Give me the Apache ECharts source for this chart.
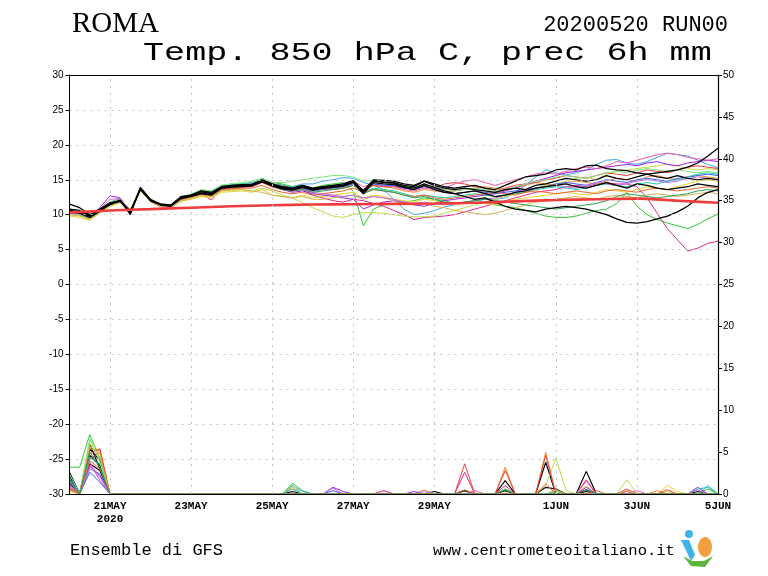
<!DOCTYPE html>
<html><head><meta charset="utf-8">
<script src="https://cdn.jsdelivr.net/npm/echarts@6/dist/echarts.min.js"></script>
<style>html,body{margin:0;padding:0;background:#fff}#c{width:768px;height:576px}</style>
</head><body><div id="c"></div>
<script>
// ---- time axis (days since 20 May 2020 00Z), 6-hourly steps ----
const stepHours = 6;
const tickDays = [1, 3, 5, 7, 9, 12, 14, 16];
const tickLabels = ['21MAY\n2020', '23MAY', '25MAY', '27MAY', '29MAY', '1JUN', '3JUN', '5JUN'];

// ---- climatology (thick red line), daily values ----
const climDays = [0,1,2,3,4,5,6,7,8,9,10,11,12,13,14,15,16];
const climTemp = [10.3,10.6,10.8,11.0,11.2,11.35,11.45,11.5,11.55,11.6,11.7,11.9,12.1,12.2,12.3,12.0,11.7];

// ---- member colours ----
const memberColors = ['#000000','#000000','#000000','#000000','#32c832','#e0288c','#40a4e8','#c0dc46',
  '#e6d22d','#f0902d','#f03c3c','#a01ee6','#f05aaa','#3c5af0','#1ec8aa','#82e682','#d2b450','#be6ee6','#e6642d','#28a050'];

// ---- T850 members (°C), 65 six-hourly values ----
const t01 = [11.5,11.0,10.0,10.8,11.4,12.1,10.0,13.9,12.1,11.5,11.4,12.5,12.8,13.4,13.2,14.0,14.2,14.3,14.2,15.0,14.4,
  14.0,13.8,14.2,13.8,14.0,14.2,14.4,14.9,13.4,15.0,14.9,14.8,14.4,14.2,14.8,14.4,14.0,13.8,14.0,14.2,
  13.8,13.6,14.2,14.8,15.4,15.6,15.8,16.4,16.6,16.4,17.0,17.1,16.6,16.4,16.3,16.0,15.8,16.0,16.2,16.4,16.8,17.4,18.4,19.5];
const t02 = [10.8,10.6,9.9,10.8,11.7,12.0,10.2,13.8,12.2,11.4,11.3,12.6,12.8,13.3,13.0,13.9,14.1,14.2,14.3,14.9,14.3,
  13.9,13.7,14.1,13.7,13.9,14.0,14.2,14.7,13.2,14.8,14.6,14.5,14.0,13.8,14.4,13.9,13.4,13.0,12.6,12.2,
  12.4,11.8,11.2,10.8,10.6,10.4,10.8,11.0,11.2,11.0,10.8,10.4,10.0,9.4,8.9,8.8,9.0,9.4,9.8,10.4,11.2,12.4,13.2,13.6];
const t03 = [10.6,10.4,9.8,10.7,11.6,12.0,10.5,13.7,12.0,11.4,11.2,12.4,12.7,13.1,12.8,13.8,13.9,14.1,14.3,14.9,14.2,
  13.8,13.6,14.0,13.6,13.8,14.0,14.2,14.8,13.4,14.9,14.7,14.6,14.2,14.0,14.8,14.2,13.8,13.6,13.8,13.6,
  13.4,13.2,13.6,13.8,13.6,14.2,14.4,14.8,15.2,15.0,14.8,15.0,15.6,15.2,15.0,15.4,15.8,15.4,15.2,15.6,15.2,15.0,15.2,15.0];
const t04 = [10.4,10.2,9.6,10.5,11.5,11.9,10.3,13.6,12.0,11.5,11.3,12.3,12.6,13.0,12.9,13.8,14.0,14.0,14.1,14.7,14.1,
  13.7,13.5,13.9,13.5,13.8,13.9,14.1,14.6,13.0,14.6,14.4,14.3,13.9,13.6,14.2,13.6,13.2,13.0,13.2,13.4,
  13.0,12.6,12.8,13.2,13.4,13.8,14.0,14.2,14.4,14.0,13.8,14.2,14.6,14.2,13.8,14.4,14.2,13.8,13.6,13.8,14.0,14.4,14.2,14.0];
const t05 = [10.3,10.2,9.6,10.5,11.8,12.2,10.5,13.6,12.0,11.3,11.2,12.6,12.9,13.5,13.3,14.2,14.4,14.4,14.5,15.2,14.6,
  14.4,14.0,14.2,13.8,14.2,14.4,14.6,13.4,8.4,10.8,11.4,11.6,11.8,12.0,12.4,12.2,12.0,11.6,11.8,11.6,
  11.8,11.4,11.2,11.0,10.6,10.2,9.8,9.6,9.6,9.8,10.2,10.6,10.8,11.6,13.2,11.2,10.0,9.3,8.8,8.4,8.0,8.6,9.4,10.1];
const t06 = [10.2,10.0,9.5,10.4,11.6,12.2,10.6,13.6,11.9,11.2,11.1,12.2,12.5,13.0,12.1,13.6,13.8,13.9,14.0,14.6,14.0,
  13.6,13.4,13.6,12.8,12.4,12.0,11.8,12.2,12.0,11.6,11.2,10.6,10.0,9.3,9.6,9.7,9.8,10.0,10.4,10.8,
  11.2,11.6,12.0,12.4,12.8,13.2,13.4,13.6,14.0,14.2,14.0,14.4,14.6,14.4,14.4,14.0,12.4,10.2,8.0,6.4,4.8,5.2,5.9,6.2];
const t07 = [10.4,10.2,9.7,10.6,11.8,12.3,10.6,13.9,12.0,11.4,11.3,12.5,12.8,13.3,13.1,14.1,14.3,14.3,14.4,15.0,14.4,
  14.2,14.0,14.4,14.4,14.8,15.0,15.3,15.2,14.6,14.2,13.6,12.2,10.8,10.0,10.2,10.6,11.1,11.4,11.8,12.0,
  12.2,12.2,12.4,13.2,14.2,15.4,16.4,16.0,15.7,16.0,16.4,17.2,17.8,17.9,17.4,17.2,17.6,18.2,18.8,18.6,18.4,17.8,17.2,16.7];
const t08 = [10.0,9.8,9.4,10.3,11.2,11.7,10.6,13.5,11.8,11.2,11.0,12.0,12.4,12.8,12.6,13.4,13.6,13.6,13.4,13.8,13.4,
  12.8,12.4,11.7,11.0,10.4,9.8,9.6,10.0,10.3,10.3,10.2,10.0,9.8,9.7,9.7,9.8,10.2,10.6,11.0,11.4,
  11.8,12.2,12.6,13.0,13.2,13.8,14.2,14.4,14.8,15.2,15.4,15.0,15.8,16.2,16.4,16.6,16.8,17.0,17.2,17.0,16.6,16.4,16.6,16.4];
const t09 = [9.8,9.6,9.2,10.2,11.2,11.8,10.8,13.4,11.9,11.2,11.0,11.9,12.2,12.6,12.4,13.2,13.3,13.4,13.2,13.6,12.8,
  12.6,12.4,12.8,12.4,12.6,12.8,13.0,13.2,12.4,12.8,12.6,12.2,12.0,11.8,12.2,12.0,11.6,11.4,11.6,11.8,
  11.6,11.4,11.8,12.2,12.4,12.6,12.8,13.0,13.2,13.0,12.8,13.2,13.6,13.4,13.2,13.6,14.0,13.8,13.6,14.0,14.4,14.8,15.0,14.8];
const t10 = [10.5,10.3,9.8,10.7,11.7,12.1,10.7,13.7,12.1,11.5,11.4,12.5,12.8,13.2,13.0,13.8,13.9,14.0,14.2,14.6,14.0,
  13.6,13.4,13.8,13.4,13.6,13.6,13.8,14.2,13.6,14.2,14.0,13.8,13.4,13.2,13.6,13.4,13.2,13.4,13.6,13.8,
  14.0,13.8,13.6,13.8,14.2,14.6,14.4,14.2,14.6,14.8,14.6,14.4,14.8,15.2,15.0,14.8,15.4,15.6,15.2,15.0,15.4,15.6,15.4,15.2];
const t11 = [10.6,10.4,9.8,10.6,11.5,11.9,10.4,13.6,12.1,11.4,11.4,12.4,12.7,13.2,13.0,14.0,14.1,14.3,14.4,15.0,14.4,
  14.2,13.8,14.0,13.6,13.8,13.6,13.8,14.2,13.6,14.2,14.0,14.0,13.8,13.6,14.0,13.8,14.4,14.6,14.4,14.0,
  13.8,13.4,13.8,14.2,14.4,14.6,15.0,15.2,15.6,15.4,15.2,15.6,16.0,15.8,15.6,16.0,16.4,16.2,16.0,16.4,16.8,17.0,16.8,16.6];
const t12 = [10.4,10.2,9.7,11.0,12.7,12.4,10.5,13.6,11.9,11.3,11.2,12.2,12.6,13.0,12.8,13.8,14.0,14.1,14.2,14.7,14.1,
  13.6,13.2,13.4,13.0,12.8,12.6,12.4,12.2,10.8,11.4,11.8,12.0,11.8,11.4,11.2,11.6,12.0,12.2,12.4,12.6,
  12.8,13.0,13.4,13.8,14.4,14.8,15.2,15.6,16.0,16.2,16.4,16.6,16.8,17.0,17.2,17.0,17.4,17.6,17.2,17.0,17.4,17.6,17.8,17.6];
const t13 = [10.3,10.1,9.6,10.5,11.7,12.3,10.6,13.7,12.0,11.3,11.2,12.4,12.7,13.1,12.9,13.9,14.1,14.2,14.3,14.9,14.3,
  14.0,13.8,14.0,13.8,14.0,14.2,14.4,14.8,14.0,14.4,14.2,14.0,13.6,13.4,13.8,13.6,13.8,14.4,14.8,15.0,
  14.6,14.2,14.6,15.0,15.4,15.8,16.0,15.8,16.2,16.6,16.8,16.6,17.0,17.6,17.4,17.8,18.2,18.6,18.8,18.6,18.2,18.0,17.8,18.0];
const t14 = [10.5,10.3,9.8,10.6,11.6,12.0,10.4,13.8,12.0,11.4,11.3,12.4,12.7,13.2,12.9,13.9,14.0,14.1,14.2,14.8,14.2,
  13.8,13.6,13.8,13.4,13.6,13.8,14.0,14.4,13.6,14.4,14.2,14.2,13.8,13.6,14.0,13.8,13.2,13.0,13.2,13.4,
  13.2,13.0,13.2,13.4,13.6,13.8,14.0,14.4,14.6,14.4,14.2,14.6,15.0,14.8,14.6,15.0,15.2,15.0,14.8,15.2,15.4,15.6,15.8,15.6];
const t15 = [10.2,10.0,9.5,10.4,11.4,11.9,10.4,13.6,12.0,11.3,11.2,12.4,12.8,13.4,13.2,14.0,14.2,14.4,14.6,15.0,14.4,
  14.2,14.0,14.2,13.8,14.0,14.2,14.4,14.6,13.2,13.8,13.6,13.4,13.0,12.6,12.8,12.6,12.4,12.6,12.8,13.0,
  12.8,12.6,12.8,13.0,13.2,13.6,13.8,14.0,13.8,13.6,13.8,14.2,14.4,14.2,14.0,14.4,14.6,14.4,14.8,15.0,15.4,15.8,16.0,15.8];
const t16 = [10.6,10.4,9.9,10.8,11.8,12.2,10.6,13.9,12.2,11.6,11.4,12.6,12.9,13.6,13.4,14.2,14.4,14.6,14.8,15.2,14.6,
  14.6,14.8,15.0,15.2,15.4,15.6,15.6,15.4,14.8,15.0,14.6,14.4,14.0,13.8,14.2,14.0,13.6,13.4,13.6,13.8,
  13.6,13.4,13.6,14.0,14.4,14.8,15.0,15.4,15.6,15.4,15.2,15.6,16.0,16.2,16.0,16.4,16.6,16.4,16.2,16.4,16.2,16.0,16.2,16.0];
const t17 = [10.0,9.9,9.3,10.4,11.4,11.8,10.6,13.5,11.8,11.1,11.0,12.0,12.3,12.8,12.6,13.4,13.5,13.6,13.4,13.2,12.8,
  12.6,12.4,12.6,12.2,12.2,12.4,12.6,12.8,12.2,12.6,12.4,12.0,11.6,11.4,11.6,11.2,11.0,10.6,10.4,10.2,
  10.0,10.2,10.6,11.0,11.4,11.8,12.0,12.2,12.4,12.6,12.4,12.2,12.6,12.8,12.6,12.4,12.8,13.0,12.8,12.6,12.8,13.0,13.2,13.0];
const t18 = [10.3,10.1,9.6,10.8,12.2,12.3,10.5,13.7,12.0,11.3,11.2,12.3,12.6,13.1,12.8,13.9,14.1,14.2,14.4,15.0,14.4,
  14.0,13.8,13.6,13.2,13.0,12.8,12.6,12.8,12.4,12.6,12.4,12.2,11.8,11.6,11.8,11.6,11.4,11.6,11.8,12.0,
  12.2,12.4,12.8,13.2,13.4,13.8,14.0,14.2,14.0,13.8,14.2,14.6,14.4,14.2,14.4,14.8,15.0,14.8,14.6,14.8,15.2,15.4,15.2,15.0];
const t19 = [10.4,10.2,9.6,10.5,11.5,11.9,10.5,13.7,11.9,11.3,11.2,12.2,12.5,12.9,12.7,13.6,13.7,13.8,13.8,14.2,13.6,
  13.2,13.0,13.2,12.8,13.0,13.2,13.4,13.8,13.2,13.6,13.4,13.2,12.8,12.6,12.8,12.4,12.2,12.4,12.6,12.8,
  13.0,13.2,13.0,12.8,13.2,13.4,13.2,13.0,13.2,13.4,13.2,13.0,13.4,13.6,13.4,13.2,13.6,13.8,13.6,13.4,13.6,13.8,14.0,13.8];
const t20 = [10.5,10.3,9.7,10.6,11.6,12.0,10.4,13.8,12.0,11.4,11.3,12.4,12.7,13.2,12.9,13.9,14.0,14.1,14.2,14.8,14.2,
  13.6,13.4,13.6,13.2,13.4,13.6,13.8,14.2,13.0,13.6,13.4,13.2,12.8,12.4,12.6,12.2,11.8,11.6,11.8,12.0,
  12.2,12.0,11.8,11.6,11.4,11.2,11.0,10.8,11.0,11.2,11.4,11.6,12.0,12.6,13.0,12.8,12.6,12.4,12.6,12.8,13.0,13.4,13.6,13.4];

// ---- 6h precipitation members (mm): [step index, value], all other steps 0 ----
const p01 = [[0,1.8],[2,5.4],[3,4.0],[22,0.3],[39,0.4],[43,1.6],[47,3.8],[51,2.7],[62,0.3]];
const p02 = [[0,2.2],[2,4.6],[3,3.4],[47,0.8],[48,0.6],[51,0.5]];
const p03 = [[0,1.2],[2,6.0],[3,3.0],[36,0.3],[51,0.3]];
const p04 = [[0,2.6],[2,3.6],[3,2.8],[43,0.4]];
const p05 = [[0,3.2],[1,3.2],[2,7.1],[3,4.2],[22,1.3],[23,0.4],[43,0.5],[48,0.3],[63,0.6]];
const p06 = [[0,1.5],[2,4.2],[3,5.0],[31,0.4],[39,2.6],[43,1.0],[51,1.7],[55,0.3]];
const p07 = [[0,0.8],[2,3.0],[3,2.4],[22,1.0],[23,0.3],[63,1.0]];
const p08 = [[0,0.5],[2,6.4],[3,5.0],[47,1.0],[48,4.3],[49,0.4],[55,1.7],[59,0.3]];
const p09 = [[0,0.3],[2,6.0],[3,4.6],[51,1.0],[59,1.0],[60,0.3]];
const p10 = [[0,1.0],[2,5.4],[3,5.2],[22,0.8],[35,0.5],[43,3.2],[47,5.0],[58,0.4]];
const p11 = [[0,0.6],[2,4.8],[3,5.4],[39,3.6],[43,2.8],[47,4.6],[55,0.6],[59,0.5]];
const p12 = [[0,1.4],[2,3.4],[3,2.2],[26,0.8],[27,0.3],[34,0.3],[51,0.8],[62,0.8]];
const p13 = [[0,0.9],[2,3.8],[3,1.6],[31,0.4],[40,0.4],[51,1.5],[56,0.4]];
const p14 = [[0,2.0],[2,2.6],[3,1.4],[26,0.4]];
const p15 = [[0,1.6],[2,4.4],[3,3.6],[22,0.6],[62,0.6],[63,0.8]];
const p16 = [[0,2.4],[2,6.6],[3,3.8],[22,1.1]];
const p17 = [[0,0.4],[2,5.8],[3,4.4],[48,0.5],[55,0.4]];
const p18 = [[0,1.1],[2,3.2],[3,2.0],[26,0.7],[35,0.3],[62,0.5]];
const p19 = [[0,0.7],[2,4.0],[3,3.0],[39,0.5],[47,1.2],[52,0.4]];
const p20 = [[0,1.9],[2,5.0],[3,3.2],[43,0.6],[51,0.5]];

const tempMembers = [t01,t02,t03,t04,t05,t06,t07,t08,t09,t10,t11,t12,t13,t14,t15,t16,t17,t18,t19,t20];
const precMembers = [p01,p02,p03,p04,p05,p06,p07,p08,p09,p10,p11,p12,p13,p14,p15,p16,p17,p18,p19,p20];

// ---- build series ----
const nSteps = t01.length;
const toDay = i => i * stepHours / 24;
const series = [];

// vertical dashed grid lines at labelled dates (inside the frame)
series.push({
  type: 'line', data: [], z: 1, silent: true, animation: false,
  markLine: { silent: true, symbol: 'none', animation: false, label: { show: false },
    lineStyle: { type: [2, 5], color: '#c4c4c4', width: 1 },
    data: tickDays.filter(d => d < 16).map(d => ({ xAxis: d })) }
});

// precipitation members (right axis), drawn underneath
precMembers.forEach((p, k) => {
  const vals = new Array(nSteps).fill(0);
  p.forEach(([i, v]) => { vals[i] = v; });
  series.push({
    type: 'line', yAxisIndex: 1, symbol: 'none', z: 2, animation: false, silent: true,
    lineStyle: { color: memberColors[k], width: memberColors[k] === '#000000' ? 1.2 : 1 },
    data: vals.map((v, i) => [toDay(i), v])
  });
});

// coloured members first, black ones on top
const order = [4,5,6,7,8,9,10,11,12,13,14,15,16,17,18,19,0,1,2,3];
order.forEach(k => {
  series.push({
    type: 'line', symbol: 'none', z: 3, animation: false, silent: true,
    lineStyle: { color: memberColors[k], width: memberColors[k] === '#000000' ? 1.25 : 1 },
    data: tempMembers[k].map((v, i) => [toDay(i), v])
  });
});

// climatology
series.push({
  type: 'line', symbol: 'none', z: 4, animation: false, silent: true, smooth: 0.3,
  lineStyle: { color: '#f03c3c', width: 2.6 },
  data: climDays.map((d, i) => [d, climTemp[i]])
});

const chart = echarts.init(document.getElementById('c'), null, { renderer: 'canvas' });
chart.setOption({
  backgroundColor: '#ffffff',
  animation: false,
  grid: { left: 69.5, right: 50, top: 75, bottom: 82, show: false },
  xAxis: [{
    type: 'value', min: 0, max: 16, interval: 1, z: 10, position: 'bottom',
    axisLine: { onZero: false, lineStyle: { color: '#000', width: 1.2 } },
    axisTick: { show: false },
    splitLine: { show: false },
    axisLabel: {
      showMinLabel: true, showMaxLabel: true, margin: 6,
      color: '#000', fontFamily: 'Liberation Mono', fontWeight: 'bold', fontSize: 11, lineHeight: 13,
      formatter: v => { const j = tickDays.indexOf(v); return j >= 0 ? tickLabels[j] : ''; }
    }
  }, {
    type: 'value', min: 0, max: 16, z: 10, position: 'top',
    axisLine: { onZero: false, lineStyle: { color: '#000', width: 1 } },
    axisTick: { show: false }, axisLabel: { show: false }, splitLine: { show: false }
  }],
  yAxis: [
    { type: 'value', min: -30, max: 30, interval: 5, position: 'left', z: 10,
      axisLine: { show: true, onZero: false, lineStyle: { color: '#000' } },
      axisTick: { show: true, length: 4, lineStyle: { color: '#000' } },
      splitLine: { show: true, lineStyle: { type: [2, 5], color: '#c4c4c4' } },
      axisLabel: { color: '#000', fontFamily: 'Liberation Sans', fontSize: 10, margin: 6 } },
    { type: 'value', min: 0, max: 50, interval: 5, position: 'right', z: 10,
      axisLine: { show: true, onZero: false, lineStyle: { color: '#000', width: 1.2 } },
      axisTick: { show: true, length: 4, lineStyle: { color: '#000' } },
      splitLine: { show: false },
      axisLabel: { color: '#000', fontFamily: 'Liberation Sans', fontSize: 10, margin: 5 } }
  ],
  graphic: [
    { type: 'text', left: 72, top: 10, style: { text: 'ROMA', fill: '#000', font: '29px "Liberation Serif"' } },
    { type: 'text', x: 728, y: 14, style: { text: '20200520 RUN00', fill: '#000', font: '22px "Liberation Mono"', textAlign: 'right', textVerticalAlign: 'top' } },
    { type: 'text', x: 143, y: 40, scaleX: 1.35, style: { text: 'Temp. 850 hPa C, prec 6h mm', fill: '#000', font: '26px "Liberation Mono"', textAlign: 'left', textVerticalAlign: 'top' } },
    { type: 'text', x: 70, y: 542, style: { text: 'Ensemble di GFS', fill: '#000', font: '17px "Liberation Mono"', textVerticalAlign: 'top' } },
    { type: 'text', x: 433, y: 543, style: { text: 'www.centrometeoitaliano.it', fill: '#000', font: '15.5px "Liberation Mono"', textVerticalAlign: 'top' } },
    { type: 'circle', shape: { cx: 689, cy: 534, r: 4 }, style: { fill: '#3cb4e6' } },
    { type: 'polygon', shape: { points: [[681,540],[689,540],[695,555],[691,561]] }, style: { fill: '#3cb4e6' } },
    { type: 'ellipse', shape: { cx: 705, cy: 547, rx: 7, ry: 10 }, style: { fill: '#f0a040' } },
    { type: 'polygon', shape: { points: [[683,556],[691,566],[705,567],[713,556],[704,561],[692,561]] }, style: { fill: '#5ab43c' } }
  ],
  series: series
});
</script>
</body></html>
